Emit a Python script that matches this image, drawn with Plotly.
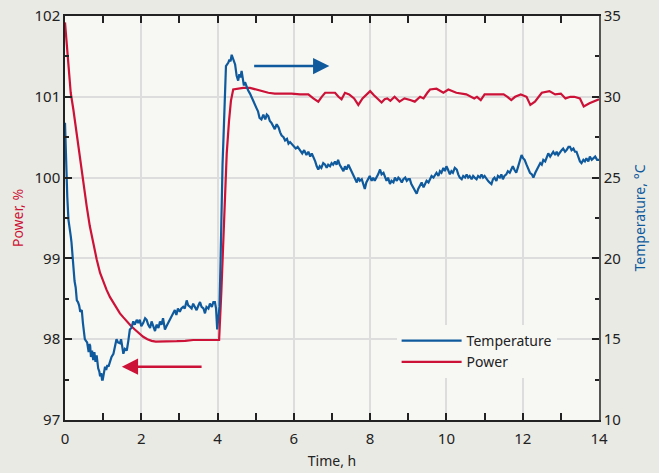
import plotly.graph_objects as go

# ---- dados ----
tempo_temp = [
    0.00, 0.02, 0.04, 0.06, 0.09, 0.12, 0.15, 0.17, 0.20, 0.22, 0.25, 0.28, 0.31, 0.34, 0.37, 0.40,
    0.44, 0.47, 0.50, 0.52, 0.55, 0.58, 0.62, 0.64, 0.66, 0.68, 0.71, 0.74, 0.77, 0.80, 0.83, 0.85,
    0.87, 0.90, 0.92, 0.95, 0.97, 0.99, 1.02, 1.05, 1.08, 1.11, 1.14, 1.18, 1.22, 1.27, 1.31, 1.35,
    1.39, 1.44, 1.47, 1.50, 1.53, 1.57, 1.62, 1.66, 1.70, 1.74, 1.79, 1.83, 1.88, 1.92, 1.96, 2.00,
    2.05, 2.10, 2.14, 2.18, 2.23, 2.27, 2.32, 2.36, 2.40, 2.45, 2.49, 2.53, 2.57, 2.62, 2.66, 2.70,
    2.75, 2.79, 2.84, 2.88, 2.92, 2.96, 3.01, 3.05, 3.10, 3.14, 3.19, 3.23, 3.28, 3.32, 3.36, 3.41,
    3.45, 3.50, 3.54, 3.58, 3.63, 3.67, 3.71, 3.76, 3.80, 3.85, 3.89, 3.93, 3.96, 3.99, 4.02, 4.05,
    4.08, 4.10, 4.13, 4.15, 4.18, 4.20, 4.22, 4.25, 4.28, 4.31, 4.34, 4.37, 4.40, 4.43, 4.46, 4.50,
    4.54, 4.57, 4.60, 4.63, 4.66, 4.69, 4.72, 4.76, 4.80, 4.85, 4.90, 4.95, 5.02, 5.06, 5.10, 5.15,
    5.20, 5.25, 5.29, 5.33, 5.37, 5.41, 5.46, 5.50, 5.55, 5.60, 5.64, 5.68, 5.73, 5.77, 5.82, 5.86,
    5.90, 5.94, 6.00, 6.05, 6.10, 6.16, 6.22, 6.27, 6.33, 6.38, 6.43, 6.47, 6.51, 6.56, 6.60, 6.64,
    6.68, 6.72, 6.77, 6.82, 6.86, 6.90, 6.95, 6.99, 7.03, 7.08, 7.12, 7.16, 7.20, 7.25, 7.30, 7.34,
    7.38, 7.43, 7.47, 7.51, 7.56, 7.60, 7.65, 7.69, 7.73, 7.78, 7.82, 7.86, 7.90, 7.95, 7.99, 8.04,
    8.08, 8.12, 8.17, 8.21, 8.26, 8.30, 8.35, 8.39, 8.43, 8.47, 8.52, 8.56, 8.61, 8.65, 8.70, 8.74,
    8.78, 8.83, 8.87, 8.92, 8.96, 9.00, 9.04, 9.08, 9.13, 9.17, 9.22, 9.26, 9.30, 9.35, 9.40, 9.44,
    9.48, 9.53, 9.57, 9.61, 9.66, 9.70, 9.74, 9.79, 9.83, 9.87, 9.92, 9.96, 10.00, 10.04, 10.09, 10.13,
    10.17, 10.22, 10.27, 10.31, 10.35, 10.40, 10.44, 10.49, 10.53, 10.57, 10.61, 10.66, 10.70, 10.74, 10.79, 10.83,
    10.88, 10.92, 10.96, 11.00, 11.05, 11.09, 11.13, 11.18, 11.22, 11.26, 11.31, 11.35, 11.40, 11.44, 11.48, 11.52,
    11.57, 11.61, 11.66, 11.70, 11.74, 11.78, 11.83, 11.87, 11.92, 11.97, 12.01, 12.05, 12.10, 12.15, 12.19, 12.24,
    12.28, 12.33, 12.37, 12.41, 12.46, 12.50, 12.54, 12.59, 12.63, 12.67, 12.72, 12.76, 12.80, 12.85, 12.89, 12.93,
    12.98, 13.02, 13.06, 13.11, 13.15, 13.20, 13.24, 13.28, 13.33, 13.37, 13.41, 13.46, 13.50, 13.54, 13.59, 13.63,
    13.67, 13.72, 13.76, 13.81, 13.85, 13.90, 13.95, 14.00,
]
temperatura = [
    28.4, 26.5, 25.1, 23.8, 22.4, 22.0, 21.4, 21.0, 20.0, 19.2, 18.6, 18.2, 17.4, 17.3, 17.1, 16.7,
    16.8, 16.0, 15.4, 15.0, 14.9, 14.8, 14.2, 14.7, 14.6, 13.9, 14.3, 13.7, 14.2, 13.6, 14.0, 13.5,
    13.2, 13.0, 12.7, 12.9, 12.5, 12.5, 13.0, 13.3, 13.1, 13.4, 13.3, 13.6, 13.9, 14.1, 14.6, 15.0,
    14.8, 14.75, 15.0, 14.6, 14.1, 14.4, 14.3, 14.9, 15.6, 15.7, 16.1, 15.9, 16.2, 16.0, 16.2, 15.8,
    16.0, 16.3, 16.2, 15.9, 15.7, 16.1, 15.8, 15.5, 15.9, 15.7, 16.1, 15.9, 16.3, 15.6, 15.8, 16.0,
    16.2, 16.4, 16.6, 16.8, 16.5, 16.9, 16.7, 16.9, 17.0, 16.9, 17.4, 17.1, 17.0, 16.9, 17.2, 17.0,
    16.8, 17.1, 17.3, 17.0, 16.9, 16.6, 17.0, 16.9, 17.2, 17.0, 17.3, 17.3, 16.9, 15.6, 16.2, 17.0,
    20.0, 23.6, 25.8, 27.1, 29.5, 31.2, 31.9, 32.0, 32.1, 32.3, 32.2, 32.6, 32.4, 32.1, 32.0, 31.3,
    31.0, 31.4, 31.2, 31.6, 31.1, 30.7, 30.9, 30.6, 30.4, 30.2, 29.9, 29.7, 29.3, 29.1, 28.7, 28.6,
    28.9, 28.6, 28.9, 28.8, 28.5, 28.4, 28.2, 28.0, 28.3, 28.1, 27.8, 27.6, 27.5, 27.3, 27.4, 27.1,
    27.2, 27.1, 26.9, 26.8, 26.9, 26.7, 26.5, 26.7, 26.4, 26.6, 26.3, 26.5, 26.3, 26.0, 25.7, 25.5,
    25.7, 25.6, 25.9, 25.8, 25.6, 25.8, 25.7, 25.9, 25.8, 26.0, 25.8, 26.1, 25.8, 25.6, 25.4, 25.7,
    25.5, 25.8, 25.6, 25.3, 25.1, 24.9, 24.7, 25.0, 24.8, 24.9, 24.6, 24.3, 24.7, 24.9, 25.1, 24.8,
    25.0, 24.8, 25.0, 25.2, 25.5, 25.2, 25.3, 25.1, 24.8, 25.0, 24.6, 24.8, 24.7, 25.0, 24.8, 25.0,
    24.9, 24.7, 24.9, 25.0, 24.8, 24.9, 24.9, 24.6, 24.4, 24.2, 24.0, 24.3, 24.5, 24.7, 24.4, 24.6,
    24.8, 24.7, 24.9, 25.1, 25.0, 25.2, 25.3, 25.1, 25.4, 25.3, 25.6, 25.4, 25.7, 25.5, 25.2, 25.4,
    25.3, 25.6, 25.5, 25.2, 25.0, 24.9, 25.1, 25.0, 25.2, 25.0, 25.1, 24.9, 25.1, 25.0, 24.9, 25.1,
    25.0, 25.2, 25.0, 25.1, 24.9, 24.8, 24.7, 24.6, 24.9, 25.0, 24.8, 25.1, 25.0, 25.2, 24.9, 25.1,
    25.2, 25.4, 25.3, 25.5, 25.7, 25.5, 25.3, 25.6, 26.0, 26.4, 26.2, 26.1, 25.8, 25.5, 25.3, 25.2,
    25.0, 25.3, 25.5, 25.7, 25.9, 25.8, 26.1, 26.0, 26.3, 26.5, 26.3, 26.5, 26.6, 26.4, 26.6, 26.4,
    26.6, 26.7, 26.8, 26.6, 26.7, 26.9, 26.9, 26.7, 26.8, 26.6, 26.6, 26.3, 26.0, 25.9, 26.1, 26.0,
    26.2, 26.0, 26.3, 26.1, 26.2, 26.3, 26.1, 26.1,
]

tempo_pot = [
    0.00, 0.05, 0.10, 0.15, 0.22, 0.29, 0.39, 0.48, 0.57, 0.65, 0.74, 0.83, 0.92, 1.00, 1.09, 1.18,
    1.27, 1.35, 1.44, 1.53, 1.62, 1.72, 1.83, 1.94, 2.05, 2.16, 2.27, 2.38, 2.49, 2.70, 2.93, 3.15,
    3.36, 3.60, 3.80, 3.97, 4.04, 4.10, 4.15, 4.20, 4.24, 4.30, 4.35, 4.41, 4.50, 4.67, 4.85, 5.00,
    5.15, 5.33, 5.50, 5.70, 5.94, 6.16, 6.38, 6.51, 6.64, 6.73, 6.82, 6.95, 7.08, 7.17, 7.25, 7.34,
    7.45, 7.58, 7.69, 7.80, 7.90, 8.00, 8.10, 8.20, 8.30, 8.38, 8.45, 8.53, 8.64, 8.77, 8.90, 9.05,
    9.17, 9.31, 9.40, 9.50, 9.57, 9.74, 9.85, 9.92, 10.05, 10.26, 10.52, 10.65, 10.73, 10.80, 10.90, 11.00,
    11.25, 11.50, 11.60, 11.70, 11.80, 11.95, 12.10, 12.20, 12.32, 12.50, 12.70, 12.85, 13.00, 13.12, 13.25, 13.35,
    13.50, 13.60, 13.75, 13.90, 14.00,
]
potencia = [
    101.92, 101.60, 101.30, 101.05, 100.84, 100.59, 100.22, 99.90, 99.64, 99.40, 99.19, 98.99, 98.82, 98.71, 98.61, 98.52,
    98.45, 98.38, 98.32, 98.27, 98.22, 98.17, 98.12, 98.07, 98.03, 98.00, 97.98, 97.97, 97.97, 97.97, 97.975, 97.98,
    97.99, 97.99, 97.99, 97.99, 97.99, 98.60, 99.19, 99.80, 100.30, 100.70, 100.95, 101.09, 101.10, 101.11, 101.11, 101.09,
    101.07, 101.05, 101.04, 101.04, 101.04, 101.03, 101.03, 100.98, 100.94, 101.00, 101.05, 101.05, 101.05, 101.00, 100.97, 101.05,
    101.03, 100.98, 100.90, 100.98, 101.03, 101.07, 101.02, 100.97, 100.93, 100.97, 100.98, 100.95, 101.00, 100.94, 100.98, 100.96,
    100.94, 101.00, 100.98, 101.05, 101.09, 101.10, 101.07, 101.05, 101.09, 101.05, 101.03, 101.00, 100.98, 101.00, 100.96, 101.03,
    101.03, 101.03, 101.00, 100.96, 101.00, 101.03, 101.00, 100.90, 100.94, 101.05, 101.07, 101.03, 101.04, 100.98, 101.00, 101.00,
    100.98, 100.88, 100.92, 100.95, 100.97,
]

AZUL = '#0f5a9c'
VERMELHO = '#cc1236'
FONTE = 'Noto Sans'
FUNDO = '#f7f7f4'

fig = go.Figure()

# Temperatura no eixo direito
fig.add_trace(go.Scatter(x=tempo_temp, y=temperatura, name='Temperature', yaxis='y2',
                         mode='lines', line=dict(color=AZUL, width=2.2)))
# Potência no eixo esquerdo
fig.add_trace(go.Scatter(x=tempo_pot, y=potencia, name='Power', yaxis='y',
                         mode='lines', line=dict(color=VERMELHO, width=2.2)))

eixo_comum = dict(ticks='inside', ticklen=7, tickwidth=1.5, tickcolor='#222',
                  showline=True, linewidth=1.5, zeroline=False, automargin=False,
                  ticklabeloverflow='allow',
                  tickfont=dict(size=15, color='#222', family=FONTE))

fig.update_layout(
    width=659, height=473,
    margin=dict(l=65, r=60, t=16, b=53),
    paper_bgcolor='#eaeae4',
    plot_bgcolor=FUNDO,
    font=dict(family=FONTE, size=14, color='#222'),
    xaxis=dict(range=[0, 14], dtick=2, linecolor='#222', mirror='allticks',
               showgrid=True, gridcolor='#dddddd', gridwidth=1.5, ticklabelstandoff=4,
               minor=dict(dtick=1, ticks='inside', ticklen=4, tickcolor='#222', showgrid=False),
               title=dict(text='Time, h', font=dict(size=14, color='#222'), standoff=9),
               **eixo_comum),
    yaxis=dict(range=[97, 102], dtick=1, linecolor='#222',
               showgrid=True, gridcolor='#dddddd', gridwidth=1.5,
               minor=dict(dtick=0.5, ticks='inside', ticklen=4, tickcolor='#222', showgrid=False),
               title=dict(text='Power, %', font=dict(size=14, color=VERMELHO), standoff=8),
               **eixo_comum),
    yaxis2=dict(range=[10, 35], dtick=5, overlaying='y', side='right', linecolor='#555',
                showgrid=False,
                minor=dict(dtick=2.5, ticks='inside', ticklen=4, tickcolor='#222', showgrid=False),
                title=dict(text='Temperature, °C', font=dict(size=14, color=AZUL), standoff=15),
                **eixo_comum),
    legend=dict(x=0.621, y=0.235, xanchor='left', yanchor='top', bgcolor=FUNDO,
                itemwidth=60, font=dict(size=14, color='#222'), tracegroupgap=0),
    showlegend=True,
)

# faixa sem grade atrás da legenda
fig.add_shape(type='rect', xref='paper', yref='paper', x0=0.6, x1=0.945, y0=0.11, y1=0.235,
              fillcolor=FUNDO, line_width=0, layer='between')

# setas indicando o eixo de cada curva
fig.add_annotation(x=1.49, y=97.66, ax=3.62, ay=97.66, xref='x', yref='y', axref='x', ayref='y',
                   text='', showarrow=True, arrowhead=2, arrowsize=1.3, arrowwidth=2.5, arrowcolor=VERMELHO)
fig.add_annotation(x=6.93, y=31.9, ax=4.92, ay=31.9, xref='x', yref='y2', axref='x', ayref='y2',
                   text='', showarrow=True, arrowhead=2, arrowsize=1.3, arrowwidth=2.5, arrowcolor=AZUL)

# tira a margem padrão do body para a figura começar no canto da página
fig.write_html('out.html', config={'displayModeBar': False},
               post_script="document.body.style.margin='0';")
